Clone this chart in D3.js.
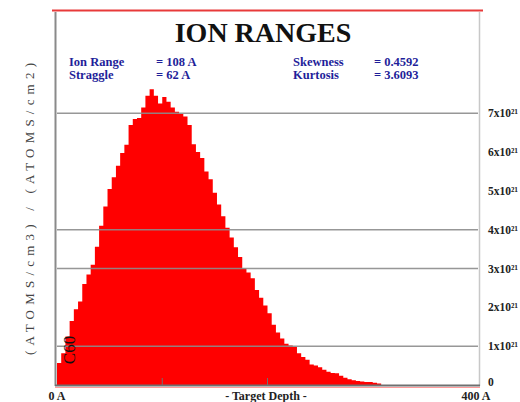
<!DOCTYPE html>
<html>
<head>
<meta charset="utf-8">
<script src="https://cdn.jsdelivr.net/npm/d3@7"></script>
<style>
  html, body { margin: 0; padding: 0; background: #fff; overflow: hidden; }
  svg { display: block; }
</style>
</head>
<body>
<svg id="chart" width="520" height="402"></svg>
<script>
// Depth bins (Å, 4 Å wide) and ion concentration per bin (units of 10^n)
const depthBins = d3.range(0, 400, 4);
const concentration = [
  0.57, 0.82, 1.25, 1.65, 1.95, 2.15, 2.60, 2.85, 3.10, 3.56,
  4.10, 4.60, 5.05, 5.35, 5.65, 5.98, 6.19, 6.70, 6.85, 6.88,
  7.15, 7.45, 7.62, 7.45, 7.25, 7.42, 7.30, 7.15, 7.04, 6.98,
  6.92, 6.70, 6.20, 6.00, 5.85, 5.50, 5.30, 4.95, 4.65, 4.35,
  4.05, 3.80, 3.55, 3.30, 3.00, 2.90, 2.75, 2.45, 2.25, 2.05,
  1.85, 1.55, 1.35, 1.20, 1.06, 1.02, 0.98, 0.82, 0.72, 0.65,
  0.53, 0.50, 0.46, 0.39, 0.34, 0.31, 0.30, 0.24, 0.19, 0.15,
  0.12, 0.10, 0.09, 0.08, 0.08, 0.06, 0.04, 0, 0, 0,
  0, 0, 0, 0, 0, 0, 0, 0, 0, 0,
  0, 0, 0, 0, 0, 0, 0, 0, 0, 0
];
const yTickValues = [0, 1, 2, 3, 4, 5, 6, 7];
const yTickLabels = ["0", "1x10\u00B2\u00B9", "2x10\u00B2\u00B9", "3x10\u00B2\u00B9", "4x10\u00B2\u00B9",
                     "5x10\u00B2\u00B9", "6x10\u00B2\u00B9", "7x10\u00B2\u00B9"];
const gridValues = [1, 3, 4, 7];
const xTickValues = [100, 200];
const statsLeft = [["Ion Range", "= 108 A"], ["Straggle", "= 62 A"]];
const statsRight = [["Skewness", "= 0.4592"], ["Kurtosis", "= 3.6093"]];

const svg = d3.select("#chart");
const x = d3.scaleLinear().domain([0, 400]).range([57, 478]);
const y = d3.scaleLinear().domain([0, 7]).range([385, 113.3]);

// Frame
svg.append("line").attr("x1", 52).attr("x2", 483).attr("y1", 10.5).attr("y2", 10.5)
  .attr("stroke", "#e83a3a").attr("stroke-width", 2);
svg.append("line").attr("x1", 55.5).attr("x2", 55.5).attr("y1", 12).attr("y2", 386)
  .attr("stroke", "#8a8a8a").attr("stroke-width", 2);
svg.append("line").attr("x1", 479.5).attr("x2", 479.5).attr("y1", 12).attr("y2", 386)
  .attr("stroke", "#c8c8c8").attr("stroke-width", 1.5);

// Histogram profile
const profile = depthBins.map((d, i) => ({ d, v: concentration[i] }));
profile.push({ d: 400, v: 0 });
const area = d3.area()
  .x(p => x(p.d))
  .y0(y(0))
  .y1(p => y(p.v))
  .curve(d3.curveStepAfter);
svg.append("path").datum(profile).attr("d", area).attr("fill", "#ff0000");

// Grid lines drawn over the profile
svg.selectAll("line.grid").data(gridValues).enter().append("line")
  .attr("class", "grid")
  .attr("x1", x(0)).attr("x2", x(400))
  .attr("y1", d => y(d)).attr("y2", d => y(d))
  .attr("stroke", "#8c8c8c").attr("stroke-opacity", 0.9).attr("stroke-width", 1.5);

// Bottom axis
svg.append("line").attr("x1", 55).attr("x2", 480).attr("y1", 385.5).attr("y2", 385.5)
  .attr("stroke", "#707070").attr("stroke-width", 2);
svg.append("line").attr("x1", 55).attr("x2", 480).attr("y1", 387.5).attr("y2", 387.5)
  .attr("stroke", "#ff9a9a").attr("stroke-width", 1);
svg.selectAll("line.xtick").data(xTickValues).enter().append("line")
  .attr("class", "xtick")
  .attr("x1", d => x(d)).attr("x2", d => x(d))
  .attr("y1", 378).attr("y2", 385)
  .attr("stroke", "#707070").attr("stroke-width", 1);

// Right-hand value labels
svg.selectAll("text.ytick").data(yTickValues).enter().append("text")
  .attr("class", "ytick")
  .attr("x", 488)
  .attr("y", d => d === 0 ? y(d) - 3 : y(d))
  .attr("dy", "0.35em")
  .attr("font-family", "Liberation Serif, serif")
  .attr("font-weight", "bold")
  .attr("font-size", 11.5)
  .attr("fill", "#222")
  .text((d, i) => yTickLabels[i]);

// Bottom labels
const bottom = svg.append("g")
  .attr("font-family", "Liberation Serif, serif")
  .attr("font-weight", "bold")
  .attr("font-size", 12)
  .attr("fill", "#222");
bottom.append("text").attr("x", x(0)).attr("y", 400).attr("text-anchor", "middle").text("0 A");
bottom.append("text").attr("x", 266).attr("y", 400).attr("text-anchor", "middle").text("- Target Depth -");
bottom.append("text").attr("x", x(400) - 2).attr("y", 400).attr("text-anchor", "middle").text("400 A");

// Title
svg.append("text").attr("x", 263).attr("y", 42).attr("text-anchor", "middle")
  .attr("font-family", "Liberation Serif, serif").attr("font-weight", "bold")
  .attr("font-size", 28).attr("fill", "#111").text("ION RANGES");

// Statistics
const stats = svg.append("g")
  .attr("font-family", "Liberation Serif, serif")
  .attr("font-weight", "bold")
  .attr("font-size", 12.5)
  .attr("fill", "#1f1f9a");
statsLeft.forEach((s, i) => {
  stats.append("text").attr("x", 69).attr("y", 66 + i * 13).text(s[0]);
  stats.append("text").attr("x", 156).attr("y", 66 + i * 13).text(s[1]);
});
statsRight.forEach((s, i) => {
  stats.append("text").attr("x", 293).attr("y", 66 + i * 13).text(s[0]);
  stats.append("text").attr("x", 374).attr("y", 66 + i * 13).text(s[1]);
});

// Y axis title
svg.append("text")
  .attr("transform", "translate(34,209) rotate(-90)")
  .attr("text-anchor", "middle")
  .attr("font-family", "Liberation Serif, serif")
  .attr("font-size", 13)
  .attr("fill", "#444")
  .attr("textLength", 292)
  .attr("lengthAdjust", "spacing")
  .text("(ATOMS/cm3) / (ATOMS/cm2)");

// Ion name
svg.append("text")
  .attr("transform", "translate(75,350) rotate(-90)")
  .attr("text-anchor", "middle")
  .attr("font-family", "Liberation Serif, serif")
  .attr("font-size", 17)
  .attr("fill", "#111")
  .text("C60");
</script>
</body>
</html>
